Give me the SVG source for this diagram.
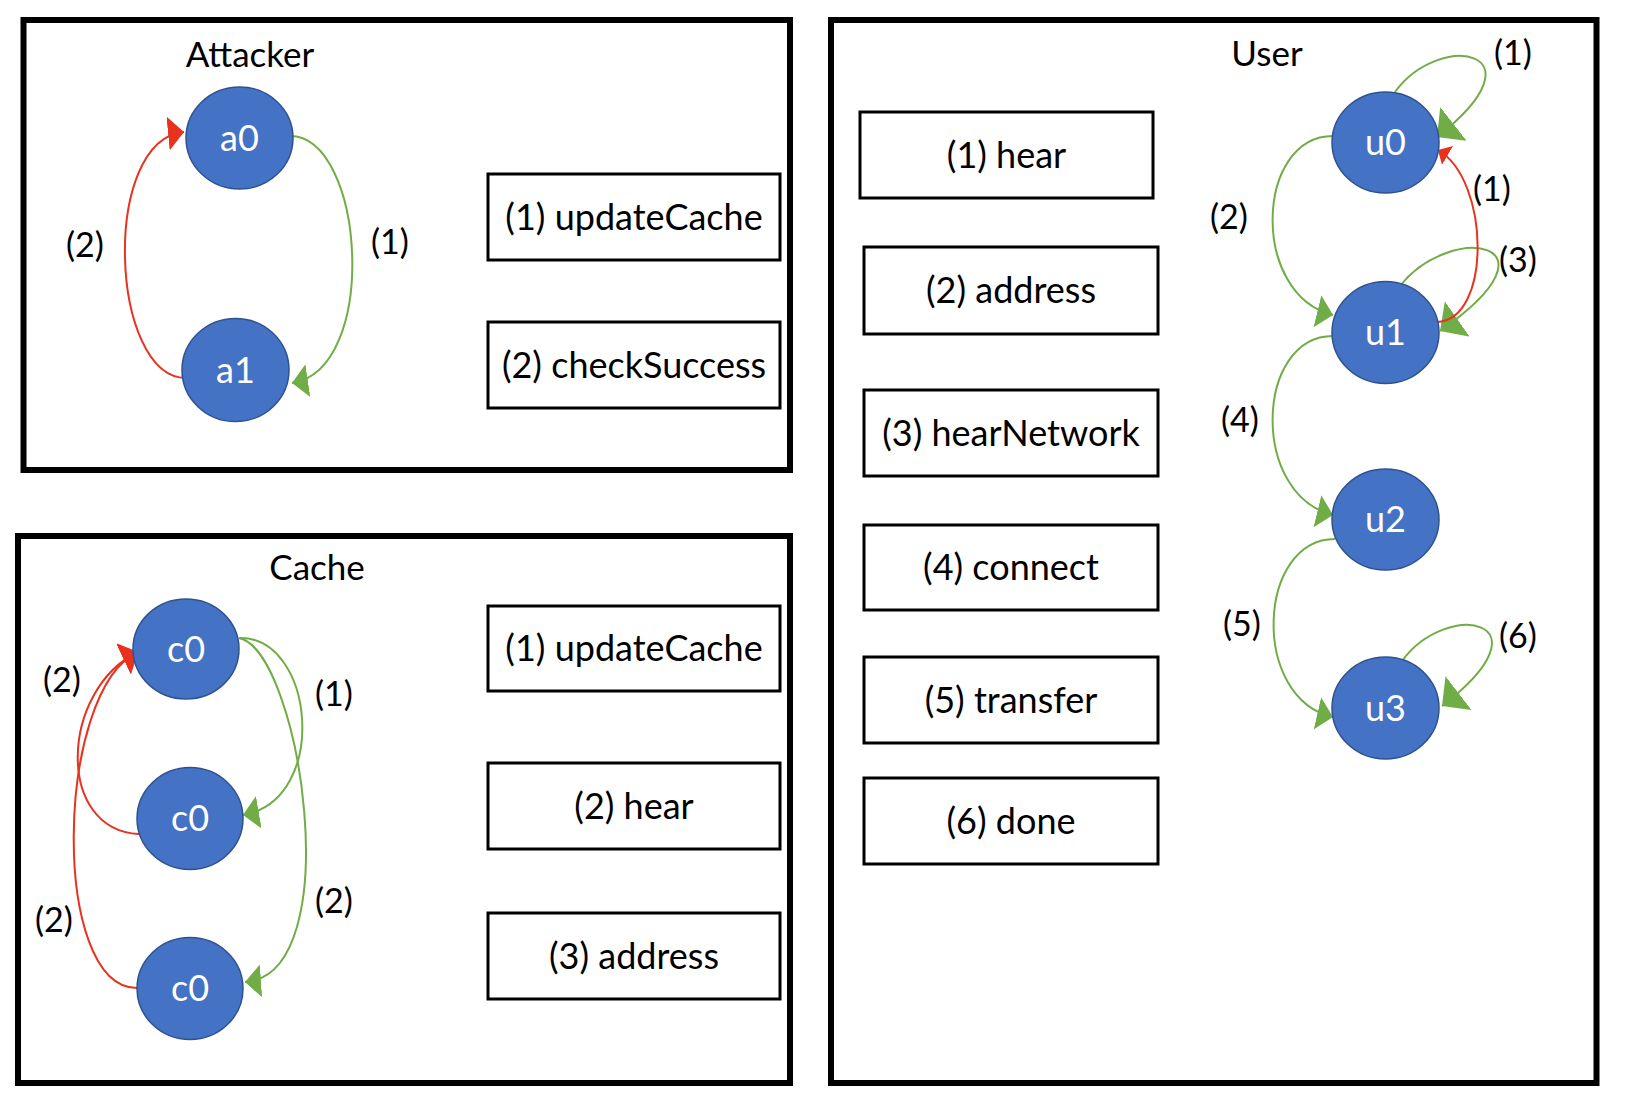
<svg xmlns="http://www.w3.org/2000/svg" width="1630" height="1110" viewBox="0 0 1630 1110">
<defs>
<style>
.frame{fill:none;stroke:#000;stroke-width:6}
.box{fill:#fff;stroke:#000;stroke-width:3}
.node{fill:#4472C4;stroke:#2F528F;stroke-width:1.5}
.nt{font-family:Lato,"Open Sans",sans-serif;font-size:36px;fill:#fff;text-anchor:middle}
.bt{font-family:Lato,"Open Sans",sans-serif;font-size:36px;fill:#000;text-anchor:middle}
.tt{font-family:Lato,"Open Sans",sans-serif;font-size:35px;fill:#000;text-anchor:middle}
.lb{font-family:Lato,"Open Sans",sans-serif;font-size:34px;fill:#000;text-anchor:middle}
.g{fill:none;stroke:#70AD47;stroke-width:2}
.r{fill:none;stroke:#E8321E;stroke-width:2}
</style>
<marker id="ag" viewBox="0 0 16 33" refX="16" refY="16.5" markerWidth="16" markerHeight="33" orient="auto" markerUnits="userSpaceOnUse"><path d="M0,0 L16,16.5 L0,33 Z" fill="#70AD47"/></marker>
<marker id="agL" viewBox="0 0 21 43" refX="21" refY="21.5" markerWidth="21" markerHeight="43" orient="auto" markerUnits="userSpaceOnUse"><path d="M0,0 L21,21.5 L0,43 Z" fill="#70AD47"/></marker>
<marker id="ar" viewBox="0 0 16 34" refX="16" refY="17" markerWidth="16" markerHeight="34" orient="auto" markerUnits="userSpaceOnUse"><path d="M0,0 L16,17 L0,34 Z" fill="#E8321E"/></marker>
<marker id="arS" viewBox="0 0 11 22" refX="11" refY="11" markerWidth="11" markerHeight="22" orient="auto" markerUnits="userSpaceOnUse"><path d="M0,0 L11,11 L0,22 Z" fill="#E8321E"/></marker>
</defs>
<rect width="1630" height="1110" fill="#fff"/>

<g id="frame-attacker">
<rect class="frame" x="23.5" y="20" width="766.5" height="450"/>
<text class="tt" x="250" y="67">Attacker</text>
</g>
<g id="frame-cache">
<rect class="frame" x="18" y="536" width="772" height="547"/>
<text class="tt" x="317" y="580">Cache</text>
</g>
<g id="frame-user">
<rect class="frame" x="831" y="20" width="765.5" height="1063"/>
<text class="tt" x="1267" y="66">User</text>
</g>

<g id="connectors">
<path class="g" d="M290,136 C365,136 380,370 292,383" marker-end="url(#ag)"/>
<path class="r" d="M186,378 C110,378 100,140 184,132" marker-end="url(#ar)"/>

<path class="g" d="M239,638 C315,636 330,800 243,815" marker-end="url(#ag)"/>
<path class="g" d="M239,638 C300,650 350,975 245,982" marker-end="url(#ag)"/>
<path class="r" d="M139,834 C55,830 60,690 138,652" marker-end="url(#ar)"/>
<path class="r" d="M137,988 C50,988 55,690 138,652" marker-end="url(#ar)"/>

<path class="g" d="M1395,92 C1440,30 1548,50 1437,137" marker-end="url(#agL)"/>
<path class="g" d="M1400,286 C1450,222 1570,240 1440,331" marker-end="url(#agL)"/>
<path class="g" d="M1402,661 C1447,599 1555,619 1442,706" marker-end="url(#agL)"/>
<path class="r" d="M1437,322 C1492,320 1490,180 1438,150" marker-end="url(#arS)"/>
<path class="g" d="M1333,136 C1255,136 1250,295 1333,315" marker-end="url(#ag)"/>
<path class="g" d="M1333,336 C1255,336 1250,495 1333,515" marker-end="url(#ag)"/>
<path class="g" d="M1335,539 C1257,539 1250,698 1333,717" marker-end="url(#ag)"/>
</g>

<g id="edge-labels">
<text class="lb" x="85" y="257">(2)</text>
<text class="lb" x="390" y="254">(1)</text>
<text class="lb" x="62" y="692">(2)</text>
<text class="lb" x="334" y="706">(1)</text>
<text class="lb" x="54" y="932">(2)</text>
<text class="lb" x="334" y="913">(2)</text>
<text class="lb" x="1229" y="229">(2)</text>
<text class="lb" x="1240" y="432">(4)</text>
<text class="lb" x="1242" y="636">(5)</text>
<text class="lb" x="1513" y="65">(1)</text>
<text class="lb" x="1492" y="201">(1)</text>
<text class="lb" x="1518" y="272">(3)</text>
<text class="lb" x="1518" y="648">(6)</text>
</g>

<g id="node-a0"><ellipse class="node" cx="239.5" cy="138" rx="53.5" ry="51"/><text class="nt" x="239.5" y="151">a0</text></g>
<g id="node-a1"><ellipse class="node" cx="235.5" cy="370" rx="53.5" ry="51.5"/><text class="nt" x="235.5" y="383">a1</text></g>
<g id="legend-a1"><rect class="box" x="488" y="174" width="292" height="86"/><text class="bt" x="634" y="230">(1) updateCache</text></g>
<g id="legend-a2"><rect class="box" x="488" y="322" width="292" height="86"/><text class="bt" x="634" y="378">(2) checkSuccess</text></g>

<g id="node-c0-top"><ellipse class="node" cx="186" cy="649" rx="53" ry="50"/><text class="nt" x="186" y="662">c0</text></g>
<g id="node-c0-mid"><ellipse class="node" cx="190" cy="818.5" rx="53" ry="51"/><text class="nt" x="190" y="831">c0</text></g>
<g id="node-c0-bot"><ellipse class="node" cx="190" cy="988.5" rx="53" ry="51"/><text class="nt" x="190" y="1001">c0</text></g>
<g id="legend-c1"><rect class="box" x="488" y="606" width="292" height="85"/><text class="bt" x="634" y="661">(1) updateCache</text></g>
<g id="legend-c2"><rect class="box" x="488" y="763" width="292" height="86"/><text class="bt" x="634" y="819">(2) hear</text></g>
<g id="legend-c3"><rect class="box" x="488" y="913" width="292" height="86"/><text class="bt" x="634" y="969">(3) address</text></g>

<g id="node-u0"><ellipse class="node" cx="1385.5" cy="142.5" rx="53.5" ry="50.5"/><text class="nt" x="1385.5" y="155">u0</text></g>
<g id="node-u1"><ellipse class="node" cx="1385.5" cy="332.5" rx="53.5" ry="51"/><text class="nt" x="1385.5" y="345">u1</text></g>
<g id="node-u2"><ellipse class="node" cx="1385.5" cy="519.5" rx="53.5" ry="50.5"/><text class="nt" x="1385.5" y="532">u2</text></g>
<g id="node-u3"><ellipse class="node" cx="1385.5" cy="708" rx="53.5" ry="51"/><text class="nt" x="1385.5" y="721">u3</text></g>
<g id="legend-u1"><rect class="box" x="860" y="112" width="293" height="86"/><text class="bt" x="1006.5" y="168">(1) hear</text></g>
<g id="legend-u2"><rect class="box" x="864" y="247" width="294" height="87"/><text class="bt" x="1011" y="303">(2) address</text></g>
<g id="legend-u3"><rect class="box" x="864" y="390" width="294" height="86"/><text class="bt" x="1011" y="446">(3) hearNetwork</text></g>
<g id="legend-u4"><rect class="box" x="864" y="525" width="294" height="85"/><text class="bt" x="1011" y="580">(4) connect</text></g>
<g id="legend-u5"><rect class="box" x="864" y="657" width="294" height="86"/><text class="bt" x="1011" y="713">(5) transfer</text></g>
<g id="legend-u6"><rect class="box" x="864" y="778" width="294" height="86"/><text class="bt" x="1011" y="834">(6) done</text></g>
</svg>
